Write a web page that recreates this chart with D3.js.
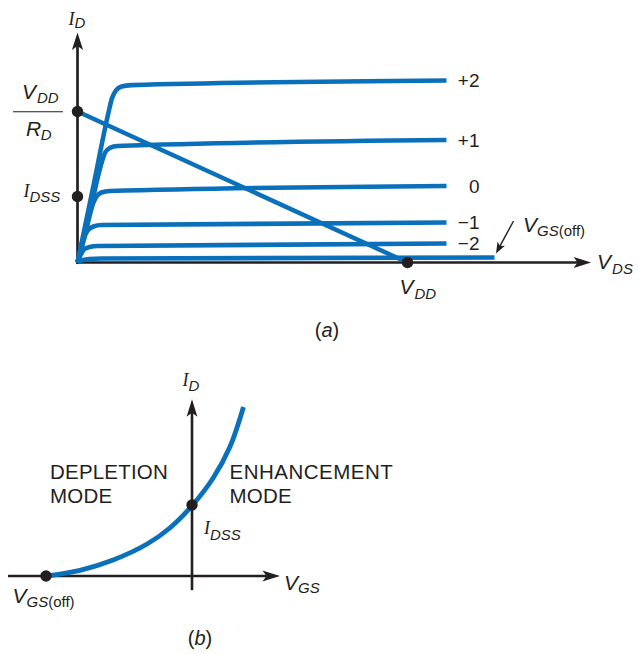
<!DOCTYPE html>
<html><head><meta charset="utf-8">
<script src="https://cdn.jsdelivr.net/npm/d3@7"></script>
<style>html,body{margin:0;padding:0;background:#fff;} svg{display:block;}</style>
</head><body>
<script>
// ---------- (a) drain curves: VDS (x) vs ID (y), arbitrary units ----------
const gateLabels = ["+2", "+1", "0", "\u22121", "\u22122", ""];
const curveVds = [
  [0, 3.9, 7.75, 8.6, 9.6, 11, 13.5, 92.25],
  [0, 3.1, 6.2, 6.9, 8.1, 10, 92.25],
  [0, 2, 4, 4.75, 6, 8, 92.25],
  [0, 1, 2, 2.75, 4, 6, 92.25],
  [0, 1.1, 1.75, 3, 5, 92.25],
  [0, 3, 6, 104.25]
];
const curveId = [
  [0, 37.5, 75, 82, 86, 88, 88.7, 91],
  [0, 25.5, 51, 55, 57.3, 58.25, 61.25],
  [0, 15, 30, 33, 35, 35.75, 38.25],
  [0, 7, 14, 16.5, 18, 18.75, 20],
  [0, 5, 6.75, 7.75, 8.25, 9.5],
  [0.5, 1.75, 2, 2.5]
];
const VDD = 82.5;        // load-line x intercept
const VDD_RD = 75.5;     // load-line y intercept
const IDSS_A = 33;
const vdsAxisMax = 128.4;
const idAxisMaxA = 115;

// ---------- (b) transfer curve: VGS (x) vs ID (y) ----------
const vgsPts = [-4, -3.07, -2.16, -1.23, -0.6, 0, 0.58, 1.04, 1.41];
const idPts  = [0, 0.8, 2.25, 4.5, 6.8, 9.9, 13.8, 18.2, 23.8];
const VGS_OFF = -4;
const IDSS_B = 10;
const vgsAxisMin = -5.04, vgsAxisMax = 2.41;
const idAxisMinB = -2, idAxisMaxB = 24.9;

const INK = "#231f20", BLUE = "#0a70ba";
const SANS = "'Liberation Sans', Arial, Helvetica, sans-serif";
const SERIF = "'Liberation Serif', 'Times New Roman', serif";

const svg = d3.select("body").append("svg").attr("width", 638).attr("height", 654)
  .style("background", "#fff");

function arrowHead(g, x, y, angleDeg, len, hw, notch) {
  g.append("path")
    .attr("d", `M0,0 L${-len},${-hw} L${-len + notch},0 L${-len},${hw} Z`)
    .attr("transform", `translate(${x},${y}) rotate(${angleDeg})`)
    .attr("fill", INK);
}
function rich(g, x, y, parts, anchor) {
  const t = g.append("text").attr("x", x).attr("y", y).attr("fill", INK)
    .attr("text-anchor", anchor || "start");
  parts.forEach(p => {
    t.append("tspan").text(p.t)
      .attr("font-family", p.serif ? SERIF : SANS)
      .attr("font-size", p.s)
      .attr("font-style", p.it === false ? "normal" : "italic")
      .attr("dx", p.dx || 0).attr("dy", p.dy || 0);
  });
  return t;
}
const IS = 18, VS = 21, SS = 15;

// ================= chart (a) =================
const gA = svg.append("g");
const xA = d3.scaleLinear().domain([0, 128]).range([77.5, 589.5]);
const yA = d3.scaleLinear().domain([0, 115]).range([262.5, 32.5]);
const AW = 2.7;

// axes
gA.append("line").attr("x1", xA(0)).attr("x2", xA(0))
  .attr("y1", yA(0) + AW / 2).attr("y2", yA(idAxisMaxA) + 12)
  .attr("stroke", INK).attr("stroke-width", AW);
arrowHead(gA, xA(0), yA(idAxisMaxA), -90, 17.5, 5.6, 4);
gA.append("line").attr("x1", xA(0) - AW / 2).attr("x2", xA(vdsAxisMax) - 12)
  .attr("y1", yA(0)).attr("y2", yA(0))
  .attr("stroke", INK).attr("stroke-width", AW);
arrowHead(gA, xA(vdsAxisMax), yA(0), 0, 17.5, 5.4, 4);

// curves
const lineA = d3.line().x(d => xA(d[0])).y(d => yA(d[1])).curve(d3.curveMonotoneX);
curveVds.forEach((vs, i) => {
  const pts = vs.map((v, j) => [v, curveId[i][j]]);
  gA.append("path").attr("d", lineA(pts)).attr("fill", "none")
    .attr("stroke", BLUE).attr("stroke-width", 4.6).attr("stroke-linecap", "butt")
    .attr("stroke-linejoin", "round");
  if (gateLabels[i]) {
    const last = pts[pts.length - 1];
    gA.append("text").attr("x", xA(last[0]) + 33).attr("y", yA(last[1]) + 6.6)
      .attr("text-anchor", "end").attr("font-family", SANS).attr("font-size", 19)
      .attr("fill", INK).text(gateLabels[i]);
  }
});
// load line
gA.append("line").attr("x1", xA(0)).attr("y1", yA(VDD_RD))
  .attr("x2", xA(VDD)).attr("y2", yA(0))
  .attr("stroke", BLUE).attr("stroke-width", 4.4);

// dots
[[0, VDD_RD], [0, IDSS_A], [VDD, 0]].forEach(d => {
  gA.append("circle").attr("cx", xA(d[0])).attr("cy", yA(d[1])).attr("r", 5.7).attr("fill", INK);
});

// labels (a)
rich(gA, xA(0) - 9, yA(idAxisMaxA) - 7.5, [{t: "I", s: IS, serif: true}, {t: "D", s: SS, dy: 2.5, dx: 0}]);
gA.append("line").attr("x1", xA(0) - 64.5).attr("x2", xA(0) - 14.5)
  .attr("y1", yA(VDD_RD) + 0.3).attr("y2", yA(VDD_RD) + 0.3)
  .attr("stroke", INK).attr("stroke-width", 1.1);
rich(gA, xA(0) - 55.5, yA(VDD_RD) - 12.5, [{t: "V", s: VS}, {t: "DD", s: SS, dy: 3.5, dx: 1}]);
rich(gA, xA(0) - 51.5, yA(VDD_RD) + 24.5, [{t: "R", s: VS}, {t: "D", s: SS, dy: 4, dx: -0.5}]);
rich(gA, xA(0) - 54, yA(IDSS_A) + 0.2, [{t: "I", s: IS, serif: true}, {t: "DSS", s: SS, dy: 5.5, dx: 0}]);
rich(gA, xA(VDD) - 8, yA(0) + 31.5, [{t: "V", s: VS}, {t: "DD", s: SS, dy: 5, dx: 1}]);
rich(gA, xA(vdsAxisMax) + 6, yA(0) + 6, [{t: "V", s: VS}, {t: "DS", s: SS, dy: 5.5, dx: 1}]);

// VGS(off) annotation anchored at end of bottom curve
const offEnd = [curveVds[5][curveVds[5].length - 1], curveId[5][curveId[5].length - 1]];
const tipX = xA(offEnd[0]) + 1.5, tipY = yA(offEnd[1]) - 4;
const tailX = tipX + 17.5, tailY = tipY - 32.5;
const ang = Math.atan2(tipY - tailY, tipX - tailX) * 180 / Math.PI;
gA.append("line").attr("x1", tailX).attr("y1", tailY)
  .attr("x2", tipX - 8 * Math.cos(ang * Math.PI / 180)).attr("y2", tipY - 8 * Math.sin(ang * Math.PI / 180))
  .attr("stroke", INK).attr("stroke-width", 1.4);
arrowHead(gA, tipX, tipY, ang, 11, 4.2, 2.5);
rich(gA, tipX + 27, tipY - 22, [{t: "V", s: VS}, {t: "GS", s: SS, dy: 4, dx: 0}, {t: "(off)", s: SS, it: false}]);

rich(gA, 327, 337, [{t: "(", s: 20, it: false}, {t: "a", s: 20}, {t: ")", s: 20, it: false}], "middle");

// ================= chart (b) =================
const gB = svg.append("g");
const xB = d3.scaleLinear().domain([-4, 0]).range([46, 192]);
const yB = d3.scaleLinear().domain([0, 10]).range([576, 505]);
const BW = 2.6;

gB.append("line").attr("x1", xB(vgsAxisMin)).attr("x2", xB(vgsAxisMax) - 12)
  .attr("y1", yB(0)).attr("y2", yB(0)).attr("stroke", INK).attr("stroke-width", BW);
arrowHead(gB, xB(vgsAxisMax), yB(0), 0, 17.5, 5.4, 4);
gB.append("line").attr("x1", xB(0)).attr("x2", xB(0))
  .attr("y1", yB(idAxisMinB)).attr("y2", yB(idAxisMaxB) + 12)
  .attr("stroke", INK).attr("stroke-width", BW);
arrowHead(gB, xB(0), yB(idAxisMaxB), -90, 17.5, 5.4, 4);

const lineB = d3.line().x(d => xB(d[0])).y(d => yB(d[1])).curve(d3.curveCatmullRom.alpha(0.5));
gB.append("path").attr("d", lineB(vgsPts.map((v, i) => [v, idPts[i]])))
  .attr("fill", "none").attr("stroke", BLUE).attr("stroke-width", 4.8).attr("stroke-linecap", "butt");

[[VGS_OFF, 0], [0, IDSS_B]].forEach(d => {
  gB.append("circle").attr("cx", xB(d[0])).attr("cy", yB(d[1])).attr("r", 5.7).attr("fill", INK);
});

rich(gB, xB(0) - 9.5, yB(idAxisMaxB) - 13, [{t: "I", s: IS, serif: true}, {t: "D", s: SS, dy: 4.5}]);
rich(gB, xB(0) + 12, yB(IDSS_B) + 29, [{t: "I", s: IS, serif: true}, {t: "DSS", s: SS, dy: 6}]);
rich(gB, xB(VGS_OFF) - 33.5, yB(0) + 27, [{t: "V", s: VS}, {t: "GS", s: SS, dy: 4, dx: 0}, {t: "(off)", s: SS, it: false}]);
rich(gB, xB(vgsAxisMax) + 4, yB(0) + 14, [{t: "V", s: VS}, {t: "GS", s: SS, dy: 2.5, dx: 0}]);

const modeText = [["DEPLETION", "MODE"], ["ENHANCEMENT", "MODE"]];
const modeX = [50, 229.5];
modeText.forEach((lines, i) => {
  lines.forEach((ln, k) => {
    gB.append("text").attr("x", modeX[i]).attr("y", 478.5 + k * 24.5)
      .attr("font-family", SANS).attr("font-size", 20.5).attr("fill", INK)
      .attr("letter-spacing", i === 1 && k === 0 ? 0.5 : 0.2).text(ln);
  });
});

rich(gB, 200, 645, [{t: "(", s: 20, it: false}, {t: "b", s: 20}, {t: ")", s: 20, it: false}], "middle");
</script>
</body></html>
